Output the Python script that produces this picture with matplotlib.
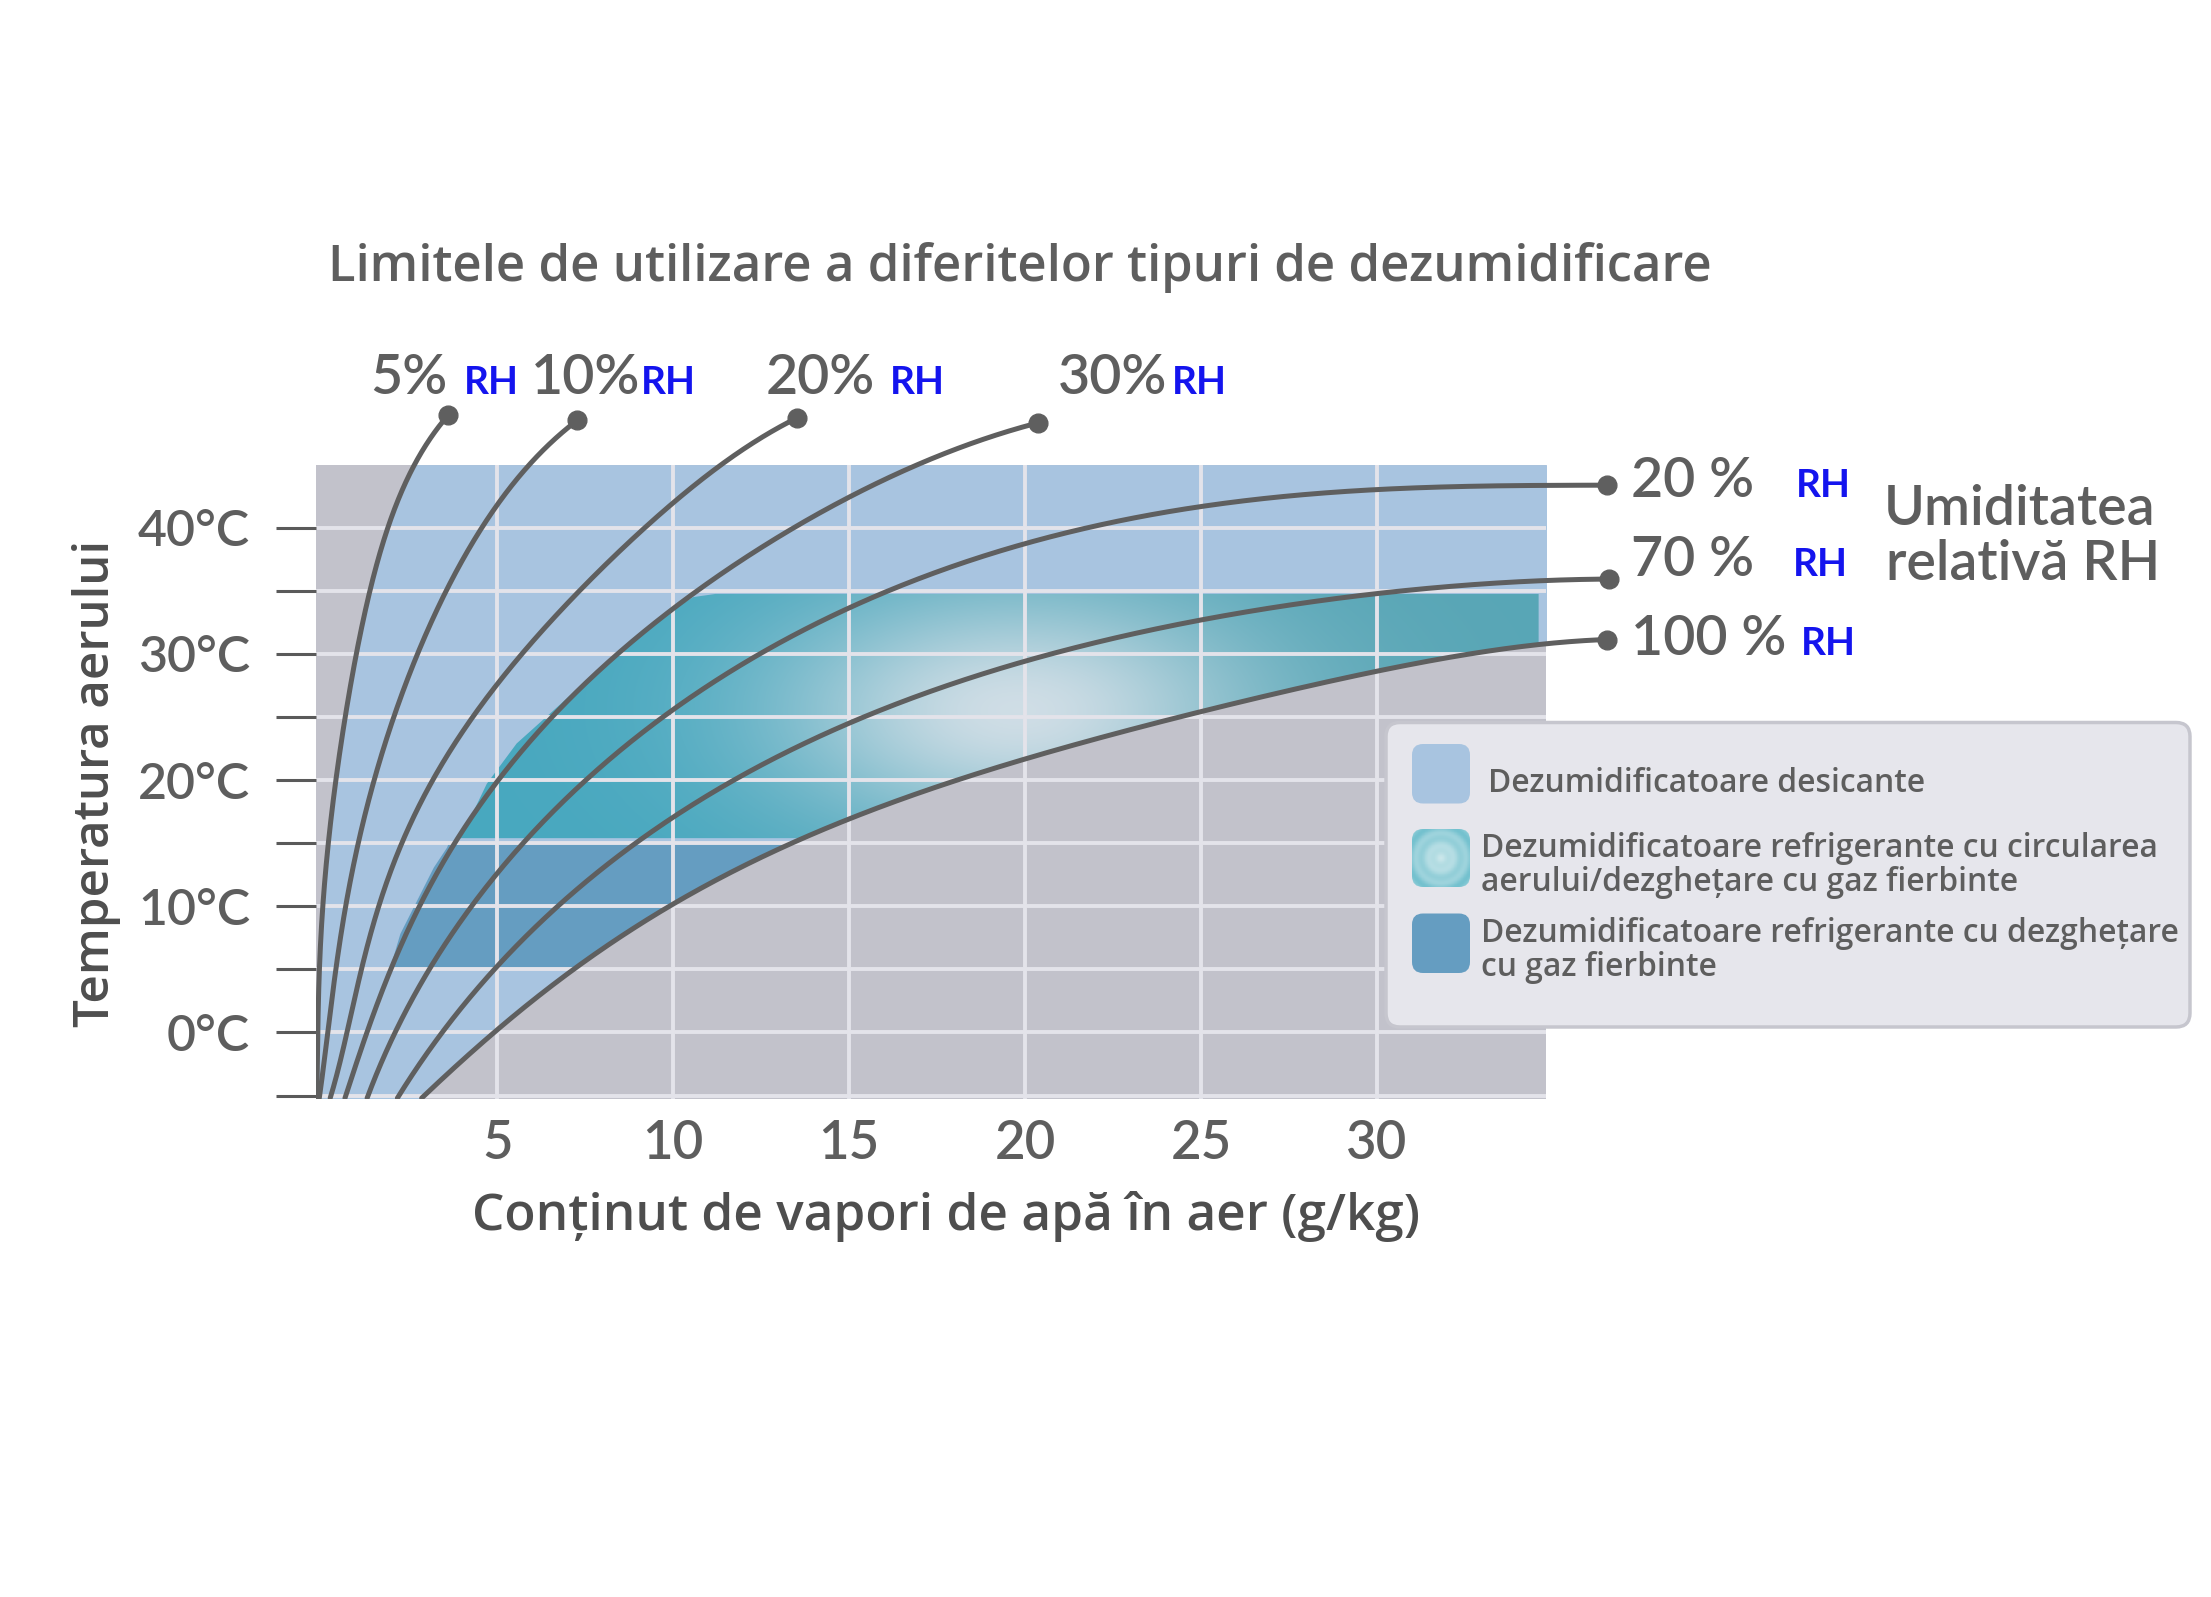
import numpy as np
import matplotlib
matplotlib.use("Agg")
import matplotlib.pyplot as plt
from matplotlib.patches import FancyBboxPatch, Polygon, Rectangle
from matplotlib.colors import to_rgb

plt.rcParams['font.family'] = ['Lato', 'DejaVu Sans']
SANS2 = ['Open Sans', 'DejaVu Sans']

# ---------------- data ----------------
title = "Limitele de utilizare a diferitelor tipuri de dezumidificare"
x_label = "Conținut de vapori de apă în aer (g/kg)"
y_label = "Temperatura aerului"
x_ticks = [5, 10, 15, 20, 25, 30]
x_tick_labels = ["5", "10", "15", "20", "25", "30"]
y_ticks = [-5, 0, 5, 10, 15, 20, 25, 30, 35, 40]
y_tick_labels = ["", "0°C", "", "10°C", "", "20°C", "", "30°C", "", "40°C"]

# relative-humidity curves: temperature (°C) -> water vapour content (g/kg)
rh5_temp = [-5.2, 0, 5, 10, 15, 20, 25, 30, 35, 40, 45, 48.9]
rh5_vapor = [-0.13, -0.09, -0.05, 0.0, 0.22, 0.43, 0.67, 0.98, 1.38, 1.90, 2.64, 3.60]
rh10_temp = [-5.2, 0, 5, 10, 15, 20, 25, 30, 35, 40, 45, 48.5]
rh10_vapor = [-0.06, 0.18, 0.44, 0.68, 1.0, 1.50, 2.10, 2.78, 3.50, 4.50, 6.0, 7.27]
rh20a_temp = [-5.2, 0, 5, 10, 15, 20, 25, 30, 35, 40, 45, 48.7]
rh20a_vapor = [0.25, 0.70, 1.17, 1.65, 2.25, 3.13, 4.35, 5.70, 7.35, 9.15, 11.4, 13.52]
rh30_temp = [-5.2, 0, 5, 10, 15, 20, 25, 30, 35, 40, 45, 48.3]
rh30_vapor = [0.67, 1.30, 2.02, 2.8, 3.65, 5.1, 6.55, 8.45, 10.8, 13.2, 17.1, 20.36]
rh20b_temp = [-5.2, 0, 5, 10, 15, 20, 25, 30, 35, 40, 41.8, 43.0, 43.3, 43.37]
rh20b_vapor = [1.30, 2.15, 3.15, 4.15, 5.75, 7.45, 9.7, 12.7, 15.9, 22.0, 25.0, 30.0, 34.0, 36.53]
rh70_temp = [-5.2, 0, 5, 10, 15, 20, 25, 30, 33, 34.8, 35.7, 35.93]
rh70_vapor = [2.16, 3.45, 4.95, 6.6, 9.05, 11.75, 15.2, 21.2, 25.2, 30.0, 34.8, 36.59]
rh100_temp = [-5.2, 0, 5, 10, 15, 20, 25, 28.9, 30.4, 31.14]
rh100_vapor = [2.85, 4.98, 7.15, 9.85, 13.3, 18.2, 24.5, 30.0, 34.6, 36.53]

top_curve_labels = ["5%", "10%", "20%", "30%"]
right_curve_labels = ["20 %", "70 %", "100 %"]
rh_suffix = "RH"
rh_title = ["Umiditatea", "relativă RH"]

legend_labels = [
    "Dezumidificatoare desicante",
    "Dezumidificatoare refrigerante cu circularea\naerului/dezghețare cu gaz fierbinte",
    "Dezumidificatoare refrigerante cu dezghețare\ncu gaz fierbinte",
]

# refrigerant (air circulation) zone: left edge, top, bottom (°C) and right limit
teal_left_temp = [15.4, 15.8, 19.7, 22.9, 25.5, 27.9, 31.1, 33.2, 34.5, 34.75]
teal_left_vapor = [3.95, 4.03, 4.70, 5.55, 6.59, 7.54, 8.87, 9.82, 10.57, 11.2]
teal_top = 34.75
teal_bottom = 15.4
teal_right = 34.6
# refrigerant (hot gas defrost) zone: left edge between 5 and 15 °C
dark_left_temp = [5.0, 5.2, 7.85, 10.5, 13.1, 14.7, 15.0]
dark_left_vapor = [1.93, 1.95, 2.23, 2.71, 3.18, 3.56, 3.60]
dark_band = (5.0, 15.0)

# ---------------- styles ----------------
C_GRAY_BG = '#c2c2cb'
C_DESIC = '#a8c4e0'
C_DARK = '#659dc1'
C_GRID = '#e3e3ea'
C_LINE = '#5f5f5f'
C_TEXT = '#5e5e5e'
C_BLUE = '#1414ee'

W, H = 2211, 1597
fig = plt.figure(figsize=(W / 100, H / 100), dpi=100)
fig.patch.set_facecolor('white')

L, R, T_, B_ = 316, 1546, 464.6, 1098.5
ax = fig.add_axes([L / W, 1 - B_ / H, (R - L) / W, (B_ - T_) / H])
XMIN, XMAX = -0.153, 34.81
YMIN, YMAX = -5.23, 45.0
ax.set_xlim(XMIN, XMAX)
ax.set_ylim(YMIN, YMAX)
ax.set_facecolor(C_GRAY_BG)
for s in ax.spines.values():
    s.set_visible(False)

SX, SY = 35.18, 12.62  # px per unit: smoothing is done in screen-like space


def smooth(temps, vapors, deg=5):
    """Smooth drawing path through the read points (least-squares in chord length)."""
    P = np.column_stack([np.asarray(vapors, float) * SX, np.asarray(temps, float) * SY])
    d = np.linalg.norm(np.diff(P, axis=0), axis=1)
    u = np.concatenate([[0], np.cumsum(d)])
    u /= u[-1]
    wts = np.ones(len(u))
    wts[0] = wts[-1] = 40
    cx = np.polyfit(u, P[:, 0], deg, w=wts)
    cy = np.polyfit(u, P[:, 1], deg, w=wts)
    uu = np.linspace(0, 1, 600)
    return np.polyval(cx, uu) / SX, np.polyval(cy, uu) / SY


curves = [
    (rh5_temp, rh5_vapor), (rh10_temp, rh10_vapor), (rh20a_temp, rh20a_vapor),
    (rh30_temp, rh30_vapor), (rh20b_temp, rh20b_vapor), (rh70_temp, rh70_vapor),
    (rh100_temp, rh100_vapor),
]
smooth_curves = [smooth(t, v) for t, v in curves]

# desiccant zone: between 5 % RH limit and saturation curve
a_x, a_t = smooth_curves[0]
g_x, g_t = smooth_curves[-1]
oa = np.argsort(a_t)
og = np.argsort(g_t)
tt = np.linspace(YMIN, YMAX, 800)
left_lim = np.interp(tt, a_t[oa], a_x[oa])
right_lim = np.where(tt <= g_t.max(), np.interp(tt, g_t[og], g_x[og]), XMAX + 1)
right_lim = np.minimum(right_lim, XMAX + 0.5)
ax.fill_betweenx(tt, left_lim, right_lim, color=C_DESIC, lw=0, zorder=0.6)

# hot-gas defrost zone 5-15 °C
td = np.linspace(dark_band[0], dark_band[1], 200)
ax.fill_betweenx(td, np.interp(td, dark_left_temp, dark_left_vapor),
                 np.interp(td, g_t[og], g_x[og]), color=C_DARK, lw=0, zorder=0.7)

# air-circulation zone polygon
t_at_right = np.interp(teal_right, g_x, g_t)
mask = (g_t >= teal_bottom) & (g_t <= t_at_right)
verts = list(zip(teal_left_vapor, teal_left_temp))
verts += [(teal_right, teal_top), (teal_right, t_at_right)]
verts += list(zip(g_x[mask][::-1], g_t[mask][::-1]))
verts += [(np.interp(teal_bottom, g_t[og], g_x[og]), teal_bottom)]
poly = Polygon(verts, closed=True, facecolor='none', edgecolor='none', transform=ax.transData)
ax.add_patch(poly)

gx = np.linspace(XMIN, XMAX, 500)
gy = np.linspace(YMIN, YMAX, 300)
GX, GY = np.meshgrid(gx, gy)
dark_l = np.array(to_rgb('#48a8bf'))
dark_r = np.array(to_rgb('#58a6b6'))
light = np.array(to_rgb('#d3dfe7'))
fr = np.clip((GX - 10) / 20, 0, 1)[..., None]
base = dark_l * (1 - fr) + dark_r * fr
w = np.exp(-(((GX - 19.8) / 6.8) ** 2 + ((GY - 25.5) / 9.5) ** 2))[..., None] * 0.97
img = base * (1 - w) + light * w
im = ax.imshow(img, extent=(XMIN, XMAX, YMIN, YMAX), origin='lower', aspect='auto',
               zorder=0.8, interpolation='bilinear')
im.set_clip_path(poly)

# grid and ticks
ax.set_xticks(x_ticks)
ax.set_xticklabels(x_tick_labels)
ax.set_yticks(y_ticks)
ax.set_yticklabels(y_tick_labels)
ax.grid(True, color=C_GRID, lw=2.8, zorder=1.5)
ax.tick_params(axis='x', length=0, pad=15, labelsize=38, labelcolor=C_TEXT)
ax.tick_params(axis='y', length=28.8, width=2.2, color='#5a5a5a', pad=18.7,
               labelsize=36, labelcolor=C_TEXT)
for lab in ax.get_xticklabels() + ax.get_yticklabels():
    lab.set_fontweight('semibold')

# curves with end dots (clipped only at the left and bottom plot edges)
clip_rect = Rectangle((0, 0), 1.5, 1.5, transform=ax.transAxes, facecolor='none')
for cx, ct in smooth_curves:
    ln, = ax.plot(cx, ct, color=C_LINE, lw=3.6, zorder=3, solid_capstyle='round')
    ln.set_clip_path(clip_rect)
    ax.plot([cx[-1]], [ct[-1]], 'o', ms=13.5, color=C_LINE, clip_on=False, zorder=4)

# ---------------- overlay (pixel coordinates) ----------------
ov = fig.add_axes([0, 0, 1, 1], zorder=10)
ov.set_xlim(0, W)
ov.set_ylim(H, 0)
ov.axis('off')

ov.text(1020, 281, title, fontsize=36.6, color=C_TEXT, ha='center', va='baseline',
        fontweight='semibold', family=SANS2)
ov.text(946, 1216, x_label, fontsize=36.9, color='#4e4e4e', ha='center', va='center',
        fontweight='semibold', family=SANS2)
ov.text(97, 783, y_label, fontsize=35.5, color='#4e4e4e', ha='center', va='center',
        rotation=90, fontweight='semibold', family=SANS2)

for lab, x0, xr in zip(top_curve_labels, [370, 531, 766, 1058], [464, 641, 890, 1172]):
    ov.text(x0, 394, lab, fontsize=40, color=C_TEXT, ha='left', va='baseline',
            fontweight='semibold')
    ov.text(xr, 394, rh_suffix, fontsize=28, color=C_BLUE, ha='left', va='baseline',
            fontweight='bold')
for lab, yb, xr in zip(right_curve_labels, [497, 576, 655], [1796, 1793, 1801]):
    ov.text(1631, yb, lab, fontsize=40, color=C_TEXT, ha='left', va='baseline',
            fontweight='semibold')
    ov.text(xr, yb, rh_suffix, fontsize=28, color=C_BLUE, ha='left', va='baseline',
            fontweight='bold')
ov.text(2020, 525, rh_title[0], fontsize=40, color=C_TEXT, ha='center', va='baseline',
        fontweight='semibold')
ov.text(2023, 580, rh_title[1], fontsize=40, color=C_TEXT, ha='center', va='baseline',
        fontweight='semibold')

# legend box
box = FancyBboxPatch((1386, 722.5), 804, 304.5, boxstyle='round,pad=0,rounding_size=14',
                     facecolor='#e6e6ec', edgecolor='#c6c6ce', lw=2.5, zorder=1)
ov.add_patch(box)
sw1 = FancyBboxPatch((1412, 744), 58, 59.5, boxstyle='round,pad=0,rounding_size=11',
                     facecolor=C_DESIC, edgecolor='none', zorder=2)
ov.add_patch(sw1)
sw3 = FancyBboxPatch((1412, 913.5), 58, 59.5, boxstyle='round,pad=0,rounding_size=11',
                     facecolor=C_DARK, edgecolor='none', zorder=2)
ov.add_patch(sw3)
sw2 = FancyBboxPatch((1412, 829), 58, 58, boxstyle='round,pad=0,rounding_size=11',
                     facecolor='none', edgecolor='none', zorder=2)
ov.add_patch(sw2)
yy, xx = np.mgrid[-1:1:40j, -1:1:40j]
rr = np.clip(np.sqrt(xx ** 2 + yy ** 2) / 1.2, 0, 1)[..., None]
ring = (0.5 + 0.5 * np.cos(np.sqrt(xx ** 2 + yy ** 2) * 14))[..., None] * 0.25
sw_img = np.array(to_rgb('#c4e4e8')) * (1 - rr) + np.array(to_rgb('#6fbfcd')) * rr
sw_img = np.clip(sw_img * (1 - ring) + ring * np.array(to_rgb('#e8f4f6')), 0, 1)
sim = ov.imshow(sw_img, extent=(1412, 1470, 887, 829), zorder=2, aspect='auto')
sim.set_clip_path(sw2)
ov.set_xlim(0, W)
ov.set_ylim(H, 0)

LEG_FS = 22.9
ov.text(1488, 791.7, legend_labels[0], fontsize=LEG_FS, color=C_TEXT, ha='left',
        va='baseline', fontweight='semibold', family=SANS2, zorder=3)
l2 = legend_labels[1].split('\n')
ov.text(1481, 857, l2[0], fontsize=LEG_FS, color=C_TEXT, ha='left', va='baseline',
        fontweight='semibold', family=SANS2, zorder=3)
ov.text(1481, 890.6, l2[1], fontsize=LEG_FS, color=C_TEXT, ha='left', va='baseline',
        fontweight='semibold', family=SANS2, zorder=3)
l3 = legend_labels[2].split('\n')
ov.text(1481, 942, l3[0], fontsize=LEG_FS, color=C_TEXT, ha='left', va='baseline',
        fontweight='semibold', family=SANS2, zorder=3)
ov.text(1481, 975.6, l3[1], fontsize=LEG_FS, color=C_TEXT, ha='left', va='baseline',
        fontweight='semibold', family=SANS2, zorder=3)

fig.savefig('out.png', dpi=100, facecolor='white')
